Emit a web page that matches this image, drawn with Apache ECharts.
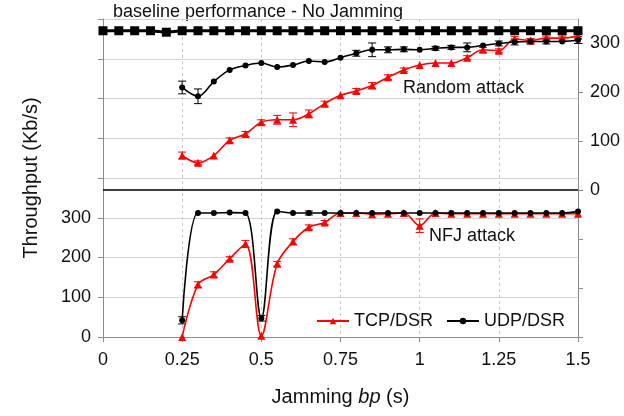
<!DOCTYPE html>
<html>
<head>
<meta charset="utf-8">
<script src="https://cdn.jsdelivr.net/npm/echarts@6/dist/echarts.min.js"></script>
<style>
html,body{margin:0;padding:0;background:#fff;}
#chart{width:624px;height:416px;}
</style>
</head>
<body>
<div id="chart"></div>
<script>
// DATA
const xBase=[0,0.05,0.1,0.15,0.2,0.25,0.3,0.35,0.4,0.45,0.5,0.55,0.6,0.65,0.7,0.75,0.8,0.85,0.9,0.95,1,1.05,1.1,1.15,1.2,1.25,1.3,1.35,1.4,1.45,1.5];
const baseline=[326,326,326,326,323,326,326,326,326,326,326,326,326,326,326,326,326,326,326,326,326,326,326,326,326,326,326,326,326,326,326];

const xJam=[0.25,0.3,0.35,0.4,0.45,0.5,0.55,0.6,0.65,0.7,0.75,0.8,0.85,0.9,0.95,1,1.05,1.1,1.15,1.2,1.25,1.3,1.35,1.4,1.45,1.5];
// random attack (top panel, right axis)
const randUdp=[210,192,222,246,255,260,252,256,264,262,271,280,287,287,288,287,290,292,292,296,300,303,304,304,304,307];
const randUdpErr=[13,15,0,0,0,0,0,0,0,0,0,6,14,6,5,0,4,4,9,0,5,6,5,5,0,7];
const randTcp=[71,56,71,102,115,139,144,144,156,177,194,203,214,231,246,256,260,260,271,287,285,309,306,311,311,315];
const randTcpErr=[7,4,0,5,5,5,9,14,8,5,0,5,6,5,4,0,0,0,4,5,4,5,4,4,4,5];
// NFJ attack (bottom panel, left axis)
const nfjUdp=[42,312,312,313,312,47,316,312,312,312,312,312,312,312,312,312,312,312,312,312,312,312,312,312,312,316];
const nfjUdpErr=[9,0,0,0,0,7,0,0,5,0,0,0,0,0,0,0,0,0,0,0,0,0,0,0,0,0];
const nfjTcp=[0,132,157,197,234,3,184,240,276,288,312,312,309,310,312,280,312,310,310,310,310,310,310,310,310,310];
const nfjTcpErr=[0,7,7,5,9,0,6,7,6,5,0,0,0,0,0,17,0,0,0,0,0,0,0,0,0,0];

const xTicks=[0,0.25,0.5,0.75,1,1.25,1.5];

const RED='#ff0000', BLK='#000000';
const FONT='"Liberation Sans", Arial, sans-serif';

function pts(xs,ys){return xs.map((x,i)=>[x,ys[i]]);}

// error bars drawn as custom series
function errBars(xs,ys,errs,yIdx,color){
  return {
    type:'custom', yAxisIndex:yIdx, silent:true, z:3,
    data:xs.map((x,i)=>[x,ys[i],errs[i]]),
    encode:{x:0,y:1},
    renderItem:function(params,api){
      const x=api.value(0), y=api.value(1), e=api.value(2);
      if(!e) return;
      const hi=api.coord([x,y+e]), lo=api.coord([x,y-e]);
      const w=4, st={stroke:color,lineWidth:1};
      return {type:'group',children:[
        {type:'line',shape:{x1:hi[0],y1:hi[1],x2:lo[0],y2:lo[1]},style:st},
        {type:'line',shape:{x1:hi[0]-w,y1:hi[1],x2:hi[0]+w,y2:hi[1]},style:st},
        {type:'line',shape:{x1:lo[0]-w,y1:lo[1],x2:lo[0]+w,y2:lo[1]},style:st}
      ]};
    }
  };
}

function tcp(data,yIdx){
  return {name:'TCP/DSR',type:'line',yAxisIndex:yIdx,data:data,smooth:0.35,
    symbol:'triangle',symbolSize:8,itemStyle:{color:RED},lineStyle:{color:RED,width:1.6},z:4};
}
function udp(data,yIdx){
  return {name:'UDP/DSR',type:'line',yAxisIndex:yIdx,data:data,smooth:0.35,
    symbol:'circle',symbolSize:6,itemStyle:{color:BLK},lineStyle:{color:BLK,width:1.6},z:5};
}

const chart=echarts.init(document.getElementById('chart'),null,{renderer:'canvas'});

const randTcpSeries=tcp(pts(xJam,randTcp),1);
randTcpSeries.markLine={silent:true,symbol:'none',label:{show:false},
  lineStyle:{color:'#000',width:1.5,type:'solid'},data:[{yAxis:0}]};

chart.setOption({
  animation:false,
  textStyle:{fontFamily:FONT},
  grid:{left:103,right:46,top:19,bottom:79},
  legend:{
    data:['TCP/DSR','UDP/DSR'],left:311,top:307,itemWidth:32,itemHeight:8,itemGap:13,
    textStyle:{fontSize:18,color:'#111',fontFamily:FONT}
  },
  graphic:[
    {type:'text',left:113,top:3,style:{text:'baseline performance - No Jamming',fontSize:18,fill:'#111',fontFamily:FONT}},
    {type:'text',left:403,top:79,style:{text:'Random attack',fontSize:18,fill:'#111',fontFamily:FONT}},
    {type:'text',left:429,top:227,style:{text:'NFJ attack',fontSize:18,fill:'#111',fontFamily:FONT}}
  ],
  xAxis:{
    type:'value',min:0,max:1.5,interval:0.25,
    name:'Jamming {i|bp} (s)',nameLocation:'middle',nameGap:50,
    nameTextStyle:{fontSize:20,color:'#111',fontFamily:FONT,rich:{i:{fontSize:20,fontStyle:'italic',color:'#111',fontFamily:FONT}}},
    axisLine:{lineStyle:{color:'#8c8c8c',width:1}},
    axisTick:{show:true,length:5,lineStyle:{color:'#8c8c8c'}},
    axisLabel:{fontSize:18,color:'#111',margin:14,
      formatter:v=>xTicks.indexOf(v)>=0?String(v):''},
    splitLine:{show:true,lineStyle:{color:'#c8c8c8',type:[3,3],width:1}}
  },
  yAxis:[
    {
      type:'value',min:0,max:800,interval:100,position:'left',
      name:'Throughput (Kb/s)',nameLocation:'middle',nameGap:62,
      nameTextStyle:{fontSize:20,color:'#111',fontFamily:FONT},
      axisLine:{show:true,lineStyle:{color:'#8c8c8c'}},
      axisTick:{show:true,length:5,lineStyle:{color:'#8c8c8c'}},
      axisLabel:{fontSize:18,color:'#111',margin:12,formatter:v=>v<=300?String(v):''},
      splitLine:{show:true,lineStyle:{color:'#d4d4d4',width:1}}
    },
    {
      type:'value',min:-300,max:350,interval:100,position:'right',
      axisLine:{show:true,lineStyle:{color:'#8c8c8c'}},
      axisTick:{show:true,length:5,lineStyle:{color:'#8c8c8c'}},
      axisLabel:{fontSize:18,color:'#111',margin:12,showMaxLabel:false,
        formatter:v=>(v>=0&&v<=300)?String(v):''},
      splitLine:{show:false}
    }
  ],
  series:[
    {name:'baseline',type:'line',yAxisIndex:1,data:pts(xBase,baseline),
      symbol:'rect',symbolSize:9,itemStyle:{color:BLK},lineStyle:{color:BLK,width:3},z:6},
    errBars(xJam,randUdp,randUdpErr,1,BLK),
    errBars(xJam,randTcp,randTcpErr,1,RED),
    errBars(xJam,nfjUdp,nfjUdpErr,0,BLK),
    errBars(xJam,nfjTcp,nfjTcpErr,0,RED),
    randTcpSeries,
    udp(pts(xJam,randUdp),1),
    tcp(pts(xJam,nfjTcp),0),
    udp(pts(xJam,nfjUdp),0)
  ]
});
</script>
</body>
</html>
